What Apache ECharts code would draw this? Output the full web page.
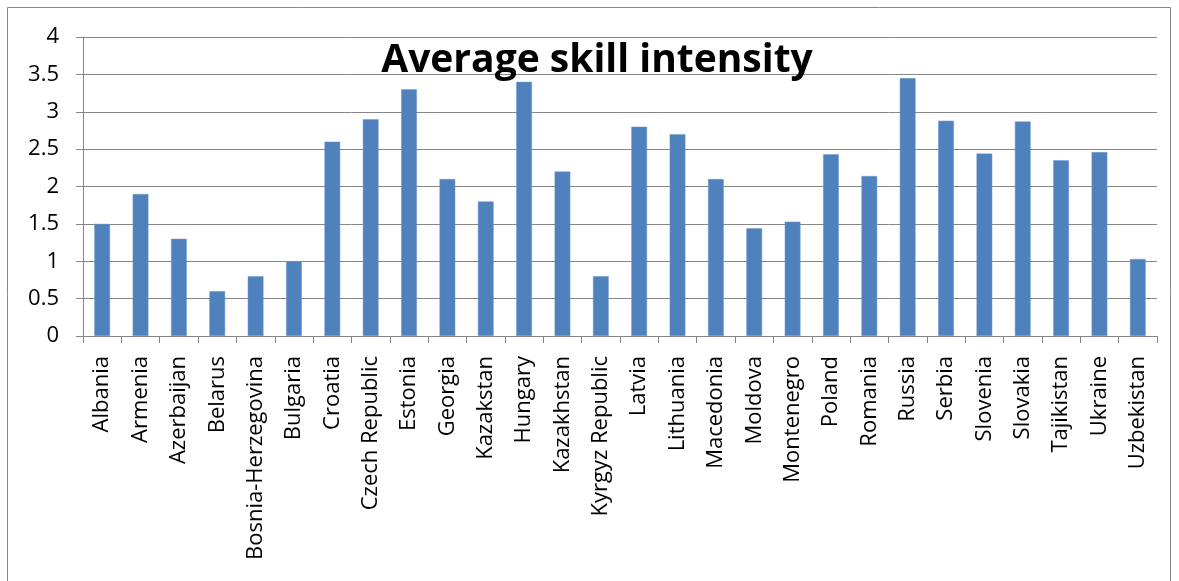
<!DOCTYPE html>
<html>
<head>
<meta charset="utf-8">
<script src="https://cdn.jsdelivr.net/npm/echarts@6/dist/echarts.min.js"></script>
<style>
html,body{margin:0;padding:0;background:#fff;}
#c{width:1179px;height:581px;}
</style>
</head>
<body>
<div id="c"></div>
<script>
const categories = ["Albania","Armenia","Azerbaijan","Belarus","Bosnia-Herzegovina","Bulgaria","Croatia","Czech Republic","Estonia","Georgia","Kazakstan","Hungary","Kazakhstan","Kyrgyz Republic","Latvia","Lithuania","Macedonia","Moldova","Montenegro","Poland","Romania","Russia","Serbia","Slovenia","Slovakia","Tajikistan","Ukraine","Uzbekistan"];
const values = [1.5,1.9,1.3,0.6,0.8,1.0,2.6,2.9,3.3,2.1,1.8,3.4,2.2,0.8,2.8,2.7,2.1,1.44,1.53,2.43,2.14,3.45,2.88,2.44,2.87,2.35,2.46,1.03];
const yTicks = [0,0.5,1,1.5,2,2.5,3,3.5,4];
const titleText = "Average skill intensity";

const chart = echarts.init(document.getElementById('c'), null, {renderer:'canvas'});
const font = "'Open Sans', sans-serif";
chart.setOption({
  animation:false,
  backgroundColor:'#ffffff',
  title:{
    text:titleText,
    left:592, top:36, textAlign:'center',
    textStyle:{fontFamily:font,fontWeight:'bold',fontSize:39,color:'#000'}
  },
  graphic:[{
    type:'rect', shape:{x:7.5,y:7.5,width:1163,height:600},
    style:{fill:'none',stroke:'#888888',lineWidth:1}, silent:true
  }],
  grid:{left:83,right:22,top:37,bottom:245,containLabel:false},
  xAxis:{
    type:'category', data:categories,
    axisLine:{lineStyle:{color:'#868686',width:1}},
    axisTick:{show:true,length:7,inside:false,lineStyle:{color:'#868686'}},
    axisLabel:{rotate:90,margin:20,interval:0,fontFamily:font,fontSize:22,color:'#000'}
  },
  yAxis:{
    type:'value', min:yTicks[0], max:yTicks[yTicks.length-1], interval:0.5,
    axisLine:{show:true,lineStyle:{color:'#868686',width:1}},
    axisTick:{show:true,length:7,lineStyle:{color:'#868686'}},
    splitLine:{show:true,lineStyle:{color:'#868686',width:1}},
    axisLabel:{margin:24,fontFamily:font,fontSize:22,color:'#000'}
  },
  series:[{
    type:'bar', data:values, barWidth:'41%',
    itemStyle:{color:'#4F81BD',borderColor:'#6f9ad0',borderWidth:0.5}
  }]
});
</script>
</body>
</html>
